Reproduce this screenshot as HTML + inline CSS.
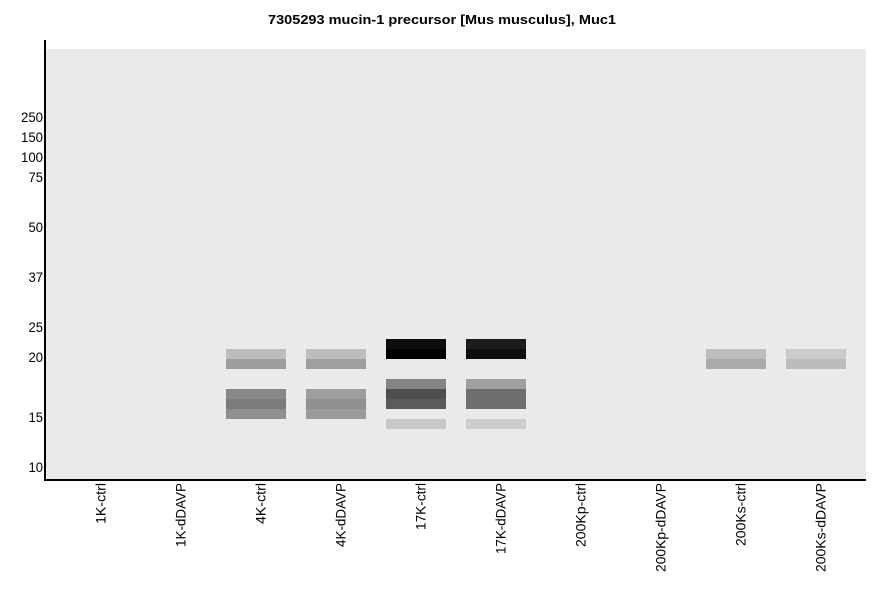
<!DOCTYPE html>
<html>
<head>
<meta charset="utf-8">
<style>
  html,body{margin:0;padding:0;background:#ffffff;}
  svg{display:block;}
  text{font-family:"Liberation Sans", Arial, sans-serif;fill:#000;}
</style>
</head>
<body>
<svg width="886" height="595" viewBox="0 0 886 595" xmlns="http://www.w3.org/2000/svg">
  <rect x="0" y="0" width="886" height="595" fill="#ffffff"/>
  <!-- title -->
  <text x="442" y="24" font-size="12.5" font-weight="bold" text-anchor="middle" textLength="348" lengthAdjust="spacingAndGlyphs">7305293 mucin-1 precursor [Mus musculus], Muc1</text>

  <!-- plot area -->
  <rect x="46" y="49" width="820" height="430" fill="#eaeaea"/>

  <!-- axes -->
  <rect x="44" y="40" width="2" height="441" fill="#000"/>
  <rect x="44" y="479" width="822" height="2" fill="#000"/>

  <!-- y labels -->
  <g font-size="14" text-anchor="end">
    <text x="43" y="122" textLength="22" lengthAdjust="spacingAndGlyphs">250</text>
    <text x="43" y="142" textLength="22" lengthAdjust="spacingAndGlyphs">150</text>
    <text x="43" y="162" textLength="22" lengthAdjust="spacingAndGlyphs">100</text>
    <text x="43" y="182" textLength="14.5" lengthAdjust="spacingAndGlyphs">75</text>
    <text x="43" y="232" textLength="14.5" lengthAdjust="spacingAndGlyphs">50</text>
    <text x="43" y="282" textLength="14.5" lengthAdjust="spacingAndGlyphs">37</text>
    <text x="43" y="332" textLength="14.5" lengthAdjust="spacingAndGlyphs">25</text>
    <text x="43" y="362" textLength="14.5" lengthAdjust="spacingAndGlyphs">20</text>
    <text x="43" y="422" textLength="14.5" lengthAdjust="spacingAndGlyphs">15</text>
    <text x="43" y="472" textLength="14.5" lengthAdjust="spacingAndGlyphs">10</text>
  </g>

  <!-- bands: 4K-ctrl -->
  <rect x="226" y="349" width="60" height="10" fill="#bbbcbb"/>
  <rect x="226" y="359" width="60" height="10" fill="#9d9e9d"/>
  <rect x="226" y="389" width="60" height="10" fill="#878887"/>
  <rect x="226" y="399" width="60" height="10" fill="#7a7c7a"/>
  <rect x="226" y="409" width="60" height="10" fill="#8f918f"/>

  <!-- 4K-dDAVP -->
  <rect x="306" y="349" width="60" height="10" fill="#bcbdbc"/>
  <rect x="306" y="359" width="60" height="10" fill="#9e9f9e"/>
  <rect x="306" y="389" width="60" height="10" fill="#9d9f9d"/>
  <rect x="306" y="399" width="60" height="10" fill="#8f918f"/>
  <rect x="306" y="409" width="60" height="10" fill="#9a9b9a"/>

  <!-- 17K-ctrl -->
  <rect x="386" y="339" width="60" height="10" fill="#0c0d0c"/>
  <rect x="386" y="349" width="60" height="10" fill="#000000"/>
  <rect x="386" y="379" width="60" height="10" fill="#838483"/>
  <rect x="386" y="389" width="60" height="10" fill="#4d4f4d"/>
  <rect x="386" y="399" width="60" height="10" fill="#5a5b5a"/>
  <rect x="386" y="419" width="60" height="10" fill="#c8c8c8"/>

  <!-- 17K-dDAVP -->
  <rect x="466" y="339" width="60" height="10" fill="#1c1c1c"/>
  <rect x="466" y="349" width="60" height="10" fill="#0e0e0e"/>
  <rect x="466" y="379" width="60" height="10" fill="#a0a0a0"/>
  <rect x="466" y="389" width="60" height="20" fill="#6e6e6e"/>
  <rect x="466" y="419" width="60" height="10" fill="#cccccc"/>

  <!-- 200Ks-ctrl -->
  <rect x="706" y="349" width="60" height="10" fill="#bcbebc"/>
  <rect x="706" y="359" width="60" height="10" fill="#aaaaaa"/>

  <!-- 200Ks-dDAVP -->
  <rect x="786" y="349" width="60" height="10" fill="#cbcbcb"/>
  <rect x="786" y="359" width="60" height="10" fill="#bbbbbb"/>

  <!-- x labels -->
  <g font-size="14" text-anchor="end">
    <text transform="translate(105.5,483) rotate(-90)" textLength="41" lengthAdjust="spacingAndGlyphs">1K-ctrl</text>
    <text transform="translate(185.5,483) rotate(-90)" textLength="64" lengthAdjust="spacingAndGlyphs">1K-dDAVP</text>
    <text transform="translate(265.5,483) rotate(-90)" textLength="41" lengthAdjust="spacingAndGlyphs">4K-ctrl</text>
    <text transform="translate(345.5,483) rotate(-90)" textLength="64" lengthAdjust="spacingAndGlyphs">4K-dDAVP</text>
    <text transform="translate(425.5,483) rotate(-90)" textLength="47" lengthAdjust="spacingAndGlyphs">17K-ctrl</text>
    <text transform="translate(505.5,483) rotate(-90)" textLength="71" lengthAdjust="spacingAndGlyphs">17K-dDAVP</text>
    <text transform="translate(585.5,483) rotate(-90)" textLength="64" lengthAdjust="spacingAndGlyphs">200Kp-ctrl</text>
    <text transform="translate(665.5,483) rotate(-90)" textLength="89" lengthAdjust="spacingAndGlyphs">200Kp-dDAVP</text>
    <text transform="translate(745.5,483) rotate(-90)" textLength="63" lengthAdjust="spacingAndGlyphs">200Ks-ctrl</text>
    <text transform="translate(825.5,483) rotate(-90)" textLength="89" lengthAdjust="spacingAndGlyphs">200Ks-dDAVP</text>
  </g>
</svg>
</body>
</html>
